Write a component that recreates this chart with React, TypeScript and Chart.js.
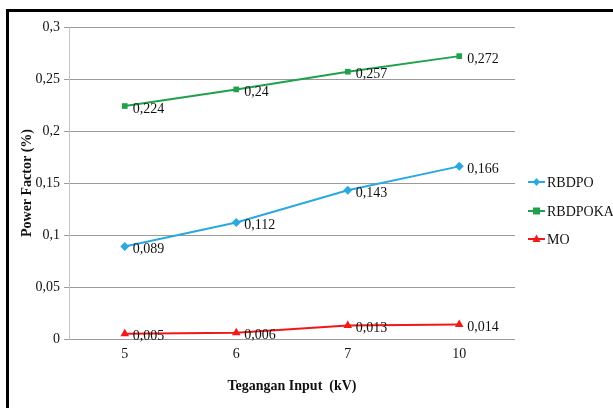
import React, { useEffect, useRef } from 'react';
import { Chart, registerables } from 'chart.js';

Chart.register(...registerables);

const categories = ['5', '6', '7', '10'];
const rbdpo = [0.089, 0.112, 0.143, 0.166];
const rbdpoka = [0.224, 0.24, 0.257, 0.272];
const mo = [0.005, 0.006, 0.013, 0.014];

const seriesNames = ['RBDPO', 'RBDPOKA', 'MO'];
const seriesColors = ['#29A9E0', '#20A04B', '#F01818'];
const seriesPoints = ['rectRot', 'rect', 'triangle'] as const;
const pointSizes = [4.5, 4, 5];

const FONT = '"Liberation Serif", "Times New Roman", serif';

const toComma = (v: number) => String(Math.round(v * 1000) / 1000).replace('.', ',');

// value labels to the right of each point
const valueLabels = {
  id: 'valueLabels',
  afterDatasetsDraw(chart: any) {
    const ctx = chart.ctx;
    ctx.save();
    ctx.font = `14px ${FONT}`;
    ctx.fillStyle = '#111';
    ctx.textAlign = 'left';
    ctx.textBaseline = 'middle';
    chart.data.datasets.forEach((ds: any, i: number) => {
      const meta = chart.getDatasetMeta(i);
      meta.data.forEach((pt: any, j: number) => {
        ctx.fillText(toComma(ds.data[j]), pt.x + 8, pt.y + 3);
      });
    });
    ctx.restore();
  },
};

// legend on the right: short line with marker, then name
const sideLegend = {
  id: 'sideLegend',
  afterDraw(chart: any) {
    const ctx = chart.ctx;
    const x0 = 528;
    const ys = [182, 211, 239];
    ctx.save();
    ctx.font = `14px ${FONT}`;
    ctx.textAlign = 'left';
    ctx.textBaseline = 'middle';
    seriesNames.forEach((name, i) => {
      const y = ys[i];
      ctx.strokeStyle = seriesColors[i];
      ctx.lineWidth = 2;
      ctx.beginPath();
      ctx.moveTo(x0, y);
      ctx.lineTo(x0 + 17, y);
      ctx.stroke();
      ctx.fillStyle = seriesColors[i];
      ctx.beginPath();
      const cx = x0 + 8.5;
      if (seriesPoints[i] === 'rectRot') {
        ctx.moveTo(cx, y - 4);
        ctx.lineTo(cx + 3.5, y);
        ctx.lineTo(cx, y + 4);
        ctx.lineTo(cx - 3.5, y);
      } else if (seriesPoints[i] === 'rect') {
        ctx.rect(cx - 3.5, y - 3.5, 7, 7);
      } else {
        ctx.moveTo(cx, y - 4.5);
        ctx.lineTo(cx + 4, y + 3);
        ctx.lineTo(cx - 4, y + 3);
      }
      ctx.closePath();
      ctx.fill();
      ctx.fillStyle = '#111';
      ctx.fillText(name, x0 + 19, y + 1);
    });
    ctx.restore();
  },
};

const App: React.FC = () => {
  const chartRef = useRef<HTMLCanvasElement>(null);
  const chartInstance = useRef<Chart | null>(null);

  useEffect(() => {
    if (chartRef && chartRef.current) {
      if (chartInstance.current) {
        chartInstance.current.destroy();
      }
      const lists = [rbdpo, rbdpoka, mo];
      chartInstance.current = new Chart(chartRef.current, {
        type: 'line',
        data: {
          labels: categories,
          datasets: lists.map((d, i) => ({
            label: seriesNames[i],
            data: d,
            borderColor: seriesColors[i],
            backgroundColor: seriesColors[i],
            borderWidth: 2,
            pointStyle: seriesPoints[i],
            pointRadius: pointSizes[i],
            pointBorderWidth: 0,
            tension: 0,
            fill: false,
          })),
        },
        options: {
          animation: false,
          responsive: false,
          layout: { padding: { left: 10, top: 27, right: 98, bottom: 10 } },
          plugins: {
            legend: { display: false },
            tooltip: { enabled: false },
          },
          scales: {
            x: {
              offset: true,
              grid: { display: false, drawTicks: false },
              border: { display: false },
              ticks: { color: '#111', padding: 7, font: { family: FONT, size: 14 } },
              title: {
                display: true,
                text: 'Tegangan Input  (kV)',
                color: '#111',
                font: { family: FONT, size: 14, weight: 'bold' },
                padding: { top: 0, bottom: 3.6 },
              },
              afterFit: (scale: any) => {
                scale.height = 59;
              },
            },
            y: {
              min: 0,
              max: 0.3,
              ticks: {
                stepSize: 0.05,
                padding: 4,
                color: '#111',
                font: { family: FONT, size: 14 },
                callback: (v: any) => toComma(Number(v)),
              },
              grid: { color: '#9a9a9a', tickLength: 5, lineWidth: 1 },
              border: { display: true, color: '#c4c4c4' },
              title: {
                display: true,
                text: 'Power Factor (%)',
                color: '#111',
                font: { family: FONT, size: 14, weight: 'bold' },
                padding: { top: 8.6, bottom: 0 },
              },
              afterFit: (scale: any) => {
                scale.width = 59;
              },
            },
          },
        },
        plugins: [valueLabels, sideLegend],
      });
    }
    return () => {
      if (chartInstance.current) {
        chartInstance.current.destroy();
        chartInstance.current = null;
      }
    };
  }, []);

  return (
    <div style={{ position: 'fixed', left: 0, top: 0, width: 613, height: 408, background: '#fff', overflow: 'hidden' }}>
      <div
        style={{
          position: 'absolute',
          left: 6,
          top: 9,
          width: 640,
          height: 440,
          border: '3px solid #000',
          boxSizing: 'border-box',
        }}
      />
      <canvas
        ref={chartRef}
        width={613}
        height={408}
        style={{ position: 'absolute', left: 0, top: 0, width: 613, height: 408 }}
      />
    </div>
  );
};

export default App;
